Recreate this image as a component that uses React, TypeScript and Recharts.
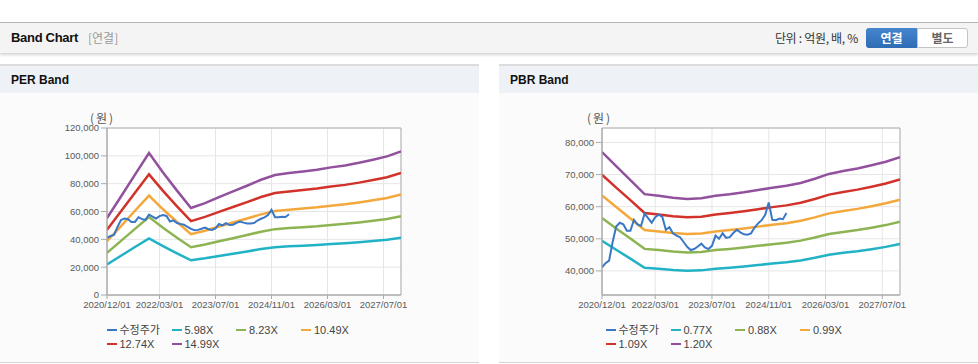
import React from 'react';
import { LineChart, Line, XAxis, YAxis, CartesianGrid, ReferenceArea } from 'recharts';

// ---------- DATA ----------
const xTickMonths = [0, 15, 31, 47, 63, 79];
const xTickLabels = ['2020/12/01', '2022/03/01', '2023/07/01', '2024/11/01', '2026/03/01', '2027/07/01'];
const lastMonth = 84;

// months (from 2020/12) at which band values were read
const bandMonths = [0, 4, 8, 12, 16, 20, 24, 28, 32, 36, 40, 44, 48, 52, 56, 60, 64, 68, 72, 76, 80, 84];

// adjusted share price, monthly from 2020/12
const price = [
  41100, 42400, 43200, 49000, 53800, 55000, 54500, 52500, 52500, 55900,
  54500, 54000, 57800, 56400, 55000, 56700, 57500, 56800, 52800, 53600,
  51700, 51000, 50500, 49000, 47500, 46500, 46800, 47600, 48500, 47300,
  46800, 47800, 51000, 50000, 51700, 50300, 50500, 51800, 52800, 52000,
  51400, 51300, 51700, 53500, 54800, 55800, 57500, 61300, 55900, 55800,
  56300, 56100, 58000,
];

// PER band lines
const perLabels = ['5.98X', '8.23X', '10.49X', '12.74X', '14.99X'];
const per598 = [22024, 28244, 34505, 40694, 35109, 29918, 24931, 26330, 28046, 29679, 31317, 33034, 34385, 34947, 35426, 35904, 36580, 37142, 37901, 38774, 39731, 41172];
const per823 = [30311, 38870, 47487, 56005, 48318, 41175, 34311, 36237, 38599, 40845, 43101, 45463, 47323, 48096, 48755, 49413, 50343, 51117, 52162, 53363, 54680, 56664];
const per1049 = [38635, 49544, 60527, 71384, 61587, 52481, 43733, 46187, 49198, 52062, 54936, 57947, 60318, 61304, 62143, 62982, 64167, 65153, 66486, 68017, 69696, 72224];
const per1274 = [46921, 60171, 73510, 86696, 74797, 63738, 53113, 56094, 59751, 63229, 66719, 70376, 73255, 74453, 75472, 76491, 77931, 79128, 80746, 82606, 84645, 87715];
const per1499 = [55200, 70800, 86500, 102000, 88000, 75000, 62500, 66000, 70300, 74400, 78500, 82800, 86200, 87600, 88800, 90000, 91700, 93100, 95000, 97200, 99600, 103200];
const perYTicks = [0, 20000, 40000, 60000, 80000, 100000, 120000];
const perYDomain = [0, 120000];

// PBR band lines
const pbrLabels = ['0.77X', '0.88X', '0.99X', '1.09X', '1.20X'];
const pbr077 = [49409, 46585, 43826, 41003, 40681, 40296, 40040, 40169, 40681, 41003, 41388, 41836, 42286, 42671, 43249, 44083, 45045, 45623, 46136, 46778, 47484, 48381];
const pbr088 = [56467, 53240, 50087, 46860, 46493, 46053, 45760, 45907, 46493, 46860, 47300, 47813, 48327, 48767, 49427, 50380, 51480, 52140, 52727, 53460, 54267, 55293];
const pbr099 = [63525, 59895, 56348, 52718, 52305, 51810, 51480, 51645, 52305, 52718, 53213, 53790, 54368, 54863, 55605, 56678, 57915, 58658, 59318, 60143, 61050, 62205];
const pbr109 = [69942, 65945, 62040, 58043, 57588, 57043, 56680, 56862, 57588, 58043, 58588, 59223, 59860, 60405, 61222, 62403, 63765, 64583, 65310, 66218, 67217, 68488];
const pbr120 = [77000, 72600, 68300, 63900, 63400, 62800, 62400, 62600, 63400, 63900, 64500, 65200, 65900, 66500, 67400, 68700, 70200, 71100, 71900, 72900, 74000, 75400];
const pbrYTicks = [40000, 50000, 60000, 70000, 80000];
const pbrYDomain = [32500, 84500];

const priceLabel = '수정주가';
const seriesColors = ['#3a77c4', '#22b2c6', '#8db452', '#f4a83c', '#d2322a', '#92519c'];

// ---------- HELPERS ----------
function buildRows(bands: number[][]) {
  const rows: any[] = [];
  for (let m = 0; m <= lastMonth; m++) {
    const row: any = { m, price: m < price.length ? price[m] : null };
    const bi = bandMonths.indexOf(m);
    bands.forEach((b, i) => {
      row['b' + i] = bi >= 0 ? b[bi] : null;
    });
    rows.push(row);
  }
  return rows;
}

const perRows = buildRows([per598, per823, per1049, per1274, per1499]);
const pbrRows = buildRows([pbr077, pbr088, pbr099, pbr109, pbr120]);

const tickFont = { fontSize: 9.5, fill: '#5a5a5a', fontFamily: '"Liberation Sans", Arial, sans-serif' };
const fmtX = (v: number) => {
  const i = xTickMonths.indexOf(v);
  return i >= 0 ? xTickLabels[i] : '';
};
const fmtY = (v: number) => v.toLocaleString('en-US');

function BandChart({ rows, yTicks, yDomain, yAxisWidth }: any) {
  return (
    <LineChart
      width={479}
      height={269}
      data={rows}
      margin={{ top: 35, right: 78, left: 0, bottom: 37 }}
    >
      <CartesianGrid stroke="#e6e6e6" fill="#ffffff" />
      <XAxis
        type="number"
        dataKey="m"
        domain={[0, lastMonth]}
        ticks={xTickMonths}
        tickFormatter={fmtX}
        tick={tickFont}
        tickSize={4}
        tickMargin={2}
        height={30}
        interval={0}
        stroke="#aaa"
        allowDataOverflow
      />
      <YAxis
        type="number"
        domain={yDomain}
        ticks={yTicks}
        tickFormatter={fmtY}
        tick={tickFont}
        tickSize={6}
        tickMargin={2}
        width={yAxisWidth}
        interval={0}
        stroke="#aaa"
        allowDataOverflow
      />
      <ReferenceArea x1={0} x2={lastMonth} y1={yDomain[0]} y2={yDomain[1]} fill="none" stroke="#b0b0b0" strokeWidth={1} />
      {[0, 1, 2, 3, 4].map((i) => (
        <Line
          key={i}
          type="linear"
          dataKey={'b' + i}
          stroke={seriesColors[i + 1]}
          strokeWidth={2.5}
          dot={false}
          connectNulls
          isAnimationActive={false}
        />
      ))}
      <Line
        type="linear"
        dataKey="price"
        stroke={seriesColors[0]}
        strokeWidth={2}
        dot={false}
        isAnimationActive={false}
      />
    </LineChart>
  );
}

function LegendBox({ labels }: { labels: string[] }) {
  const all = [priceLabel, ...labels];
  const cols = [0, 65, 129.5, 194.5];
  return (
    <div style={{ position: 'absolute', left: 106.5, top: 259, width: 330, height: 30 }}>
      {all.map((lab, i) => {
        const r = Math.floor(i / 4);
        const c = i % 4;
        return (
          <div
            key={lab}
            style={{
              position: 'absolute',
              left: cols[c],
              top: r * 14,
              height: 14,
              display: 'flex',
              alignItems: 'center',
              whiteSpace: 'nowrap',
            }}
          >
            <span style={{ display: 'inline-block', width: 10, height: 2.5, background: seriesColors[i], marginRight: 3 }} />
            <span
              style={{
                fontSize: 11,
                color: '#444',
                fontFamily: '"Liberation Sans", Arial, "Noto Sans CJK KR", sans-serif',
                lineHeight: '14px',
              }}
            >
              {lab}
            </span>
          </div>
        );
      })}
    </div>
  );
}

function Panel({ left, title, children, labels }: any) {
  return (
    <div style={{ position: 'absolute', left, top: 64, width: 479, height: 299 }}>
      <div style={{ position: 'absolute', left: 0, top: 0, width: 479, height: 2, background: '#dcdcdc' }} />
      <div style={{ position: 'absolute', left: 0, top: 2, width: 479, height: 27, background: '#eef2f7' }}>
        <span
          style={{
            position: 'absolute',
            left: 11,
            top: 6,
            fontSize: 12,
            fontWeight: 'bold',
            color: '#111',
            fontFamily: '"Liberation Sans", Arial, sans-serif',
            lineHeight: '16px',
          }}
        >
          {title}
        </span>
      </div>
      <div style={{ position: 'absolute', left: 0, top: 29, width: 479, height: 269, background: '#fbfbfb' }}>
        <span
          style={{
            position: 'absolute',
            left: left === 0 ? 90 : 88,
            top: 17,
            fontSize: 12,
            color: '#555',
            fontFamily: '"Noto Sans CJK KR", sans-serif',
            lineHeight: '16px',
            letterSpacing: 2,
          }}
        >
          (원)
        </span>
        {children}
      </div>
      <div style={{ position: 'absolute', left: 0, top: 298, width: 479, height: 1, background: '#d4d4d4' }} />
      <LegendBox labels={labels} />
    </div>
  );
}

export default function App() {
  return (
    <div
      style={{
        position: 'absolute',
        left: 0,
        top: 0,
        width: 978,
        height: 364,
        background: '#ffffff',
        overflow: 'hidden',
        fontFamily: '"Liberation Sans", Arial, "Noto Sans CJK KR", sans-serif',
      }}
    >
      {/* header bar */}
      <div
        style={{
          position: 'absolute',
          left: 0,
          top: 22,
          width: 978,
          height: 30,
          background: '#f4f4f4',
          borderTop: '1px solid #b5b5b5',
          boxShadow: '0 2px 3px rgba(0,0,0,0.18)',
        }}
      >
        <span style={{ position: 'absolute', left: 11, top: 7, fontSize: 13, fontWeight: 'bold', color: '#111', lineHeight: '16px', letterSpacing: -0.3 }}>
          Band Chart
        </span>
        <span style={{ position: 'absolute', left: 88, top: 7, fontSize: 12, color: '#999', lineHeight: '16px', fontFamily: '"Noto Sans CJK KR", sans-serif' }}>
          [연결]
        </span>
        <span style={{ position: 'absolute', right: 120, top: 7, fontSize: 12, color: '#333', lineHeight: '16px', fontFamily: '"Noto Sans CJK KR", sans-serif', letterSpacing: -0.3 }}>
          단위 : 억원, 배, %
        </span>
        <div
          style={{
            position: 'absolute',
            left: 866,
            top: 5,
            width: 51,
            height: 20,
            background: 'linear-gradient(#4586cf, #2e6cb4)',
            borderRadius: '3px 0 0 3px',
            color: '#fff',
            fontWeight: 'bold',
            fontSize: 12,
            lineHeight: '20px',
            textAlign: 'center',
            fontFamily: '"Noto Sans CJK KR", sans-serif',
          }}
        >
          연결
        </div>
        <div
          style={{
            position: 'absolute',
            left: 917,
            top: 5,
            width: 49,
            height: 18,
            background: '#fff',
            border: '1px solid #c4c4c4',
            borderRadius: '0 3px 3px 0',
            color: '#666',
            fontWeight: 'bold',
            fontSize: 12,
            lineHeight: '18px',
            textAlign: 'center',
            fontFamily: '"Noto Sans CJK KR", sans-serif',
          }}
        >
          별도
        </div>
      </div>

      <Panel left={0} title="PER Band" labels={perLabels}>
        <BandChart rows={perRows} yTicks={perYTicks} yDomain={perYDomain} yAxisWidth={107} />
      </Panel>
      <Panel left={499} title="PBR Band" labels={pbrLabels}>
        <BandChart rows={pbrRows} yTicks={pbrYTicks} yDomain={pbrYDomain} yAxisWidth={103} />
      </Panel>
    </div>
  );
}
